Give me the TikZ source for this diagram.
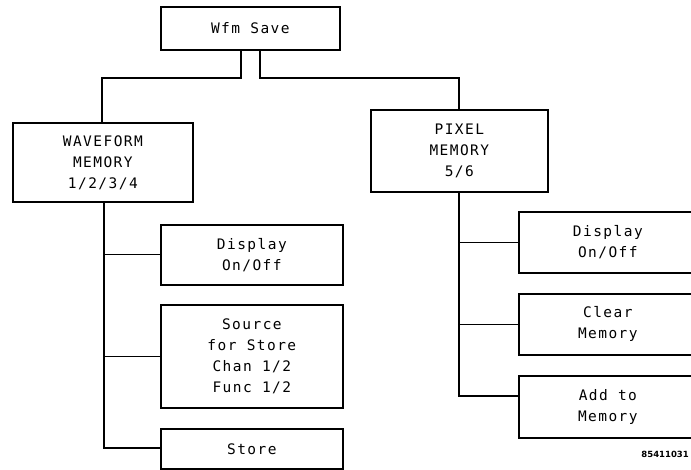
\documentclass[tikz,border=0pt]{standalone}
\usepackage{fontspec}
\newfontfamily\plotfont[LetterSpace=10]{DejaVu Sans Mono}
\newfontfamily\idfont{DejaVu Sans}
\begin{document}
\begin{tikzpicture}[x=1pt,y=-1pt,
  box/.style={draw, line width=1.7pt, inner sep=0pt, anchor=north west, align=center,
    font=\plotfont\fontsize{14.5}{21}\selectfont},
  wire/.style={line width=1.3pt}]
\useasboundingbox (0,0) rectangle (691,470);
\clip (0,0) rectangle (691,470);
% boxes
\node[box, minimum width=179pt, minimum height=43pt] (wfm) at (160,6) {Wfm Save};
\node[box, minimum width=180pt, minimum height=79pt] (wave) at (12,122) {WAVEFORM\\MEMORY\\1/2/3/4};
\node[box, minimum width=177pt, minimum height=82pt] (pix) at (370,109) {PIXEL\\MEMORY\\5/6};
\node[box, minimum width=182pt, minimum height=60pt] (ldisp) at (160,224) {Display\\On/Off};
\node[box, minimum width=182pt, minimum height=103pt] (src) at (160,304) {Source\\for Store\\Chan 1/2\\Func 1/2};
\node[box, minimum width=182pt, minimum height=40pt] (store) at (160,428) {Store};
\node[box, minimum width=178pt, minimum height=61pt] (rdisp) at (518,211) {Display\\On/Off};
\node[box, minimum width=178pt, minimum height=61pt] (clear) at (518,293) {Clear\\Memory};
\node[box, minimum width=178pt, minimum height=62pt] (add) at (518,375) {Add to\\Memory};
\node[font=\idfont\bfseries\fontsize{8.5}{10}\selectfont, anchor=east, inner sep=0pt] (fig) at (689,454) {85411031};
% connectors
\coordinate (lt) at (241,78);
\coordinate (rt) at (260,78);
\coordinate (lbot) at (104,448);
\coordinate (rbot) at (459,396);
\draw[wire] (wfm.south -| lt) -- (lt) -| (wave.north -| 102,0);
\draw[wire] (wfm.south -| rt) -- (rt) -| (pix.north -| 459,0);
\draw[wire] (wave.south -| lbot) -- (lbot) -- (store.west |- lbot);
\draw[wire] (lbot |- ldisp.west) -- (ldisp.west);
\draw[wire] (lbot |- src.west) -- (src.west);
\draw[wire] (pix.south -| rbot) -- (rbot) -- (add.west |- rbot);
\draw[wire] (rbot |- rdisp.west) -- (rdisp.west);
\draw[wire] (rbot |- clear.west) -- (clear.west);
\end{tikzpicture}
\end{document}
